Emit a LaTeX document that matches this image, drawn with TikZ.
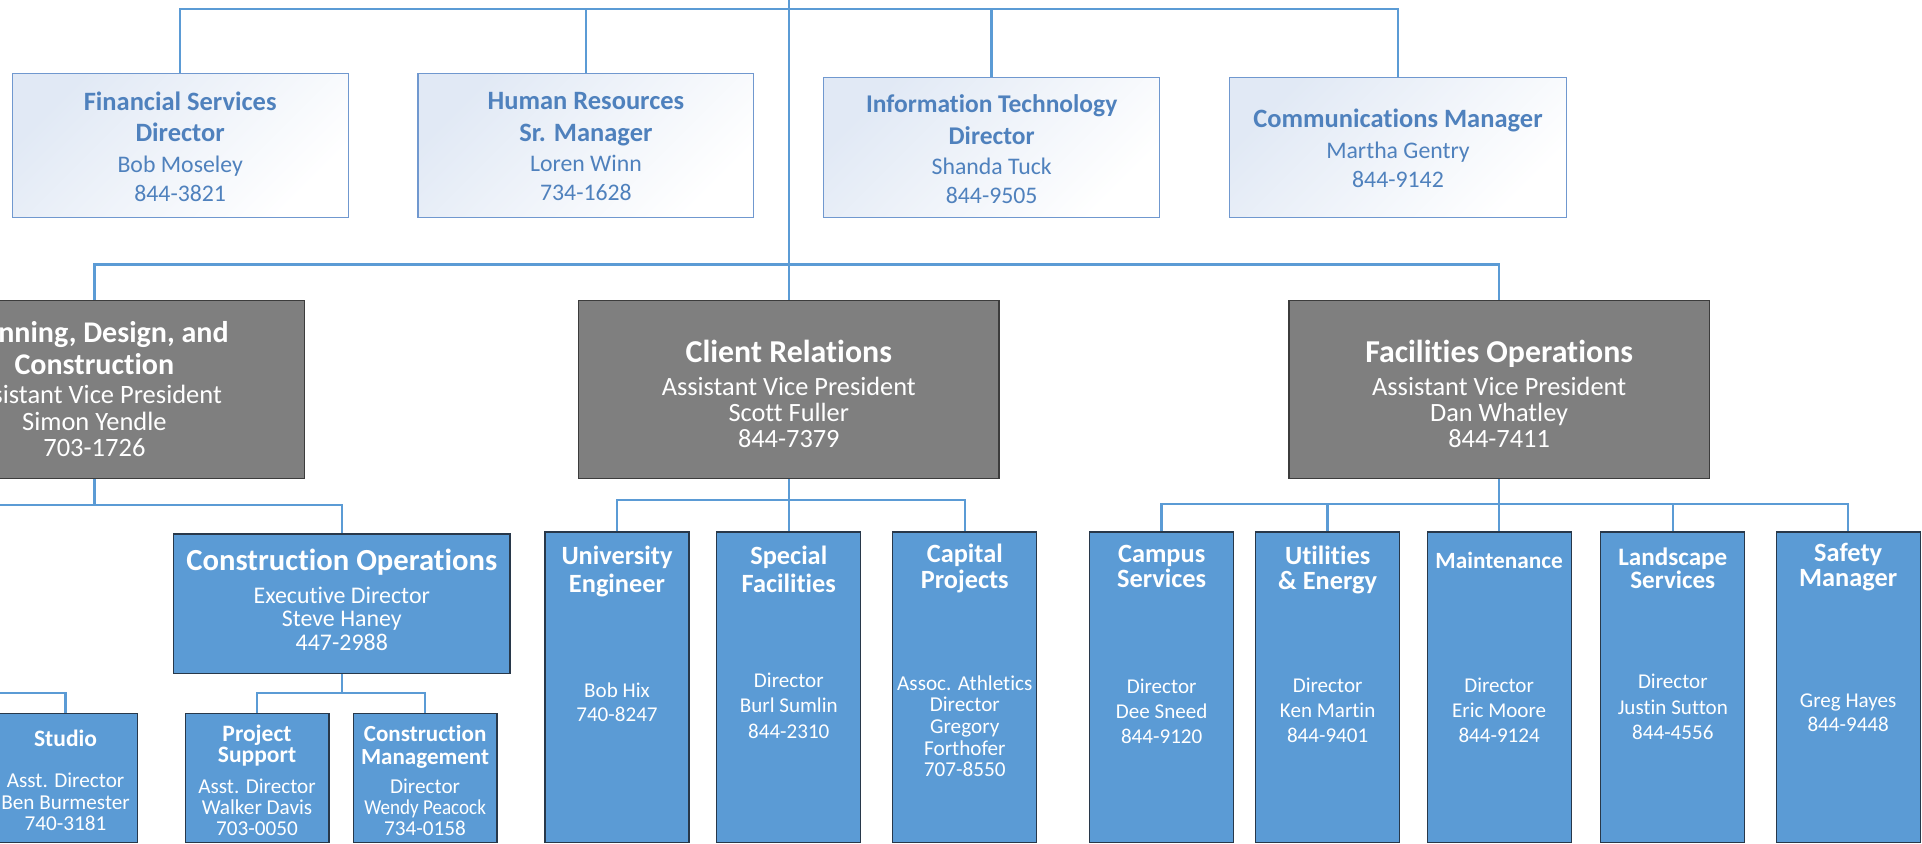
\documentclass[tikz,border=0pt]{standalone}
\usepackage{fontspec}
\usepackage{graphicx}
\setmainfont{Carlito}[RawFeature=-liga]
\definecolor{conblue}{RGB}{91,155,213}
\definecolor{topborder}{RGB}{112,152,207}
\definecolor{topfill}{RGB}{225,233,245}
\definecolor{toptext}{RGB}{79,129,189}
\definecolor{grayfill}{RGB}{127,127,127}
\definecolor{grayline}{RGB}{60,60,60}
\definecolor{bluefill}{RGB}{91,155,213}
\definecolor{blueline}{RGB}{40,56,74}
\newcommand{\hd}[2]{{\bfseries\fontsize{#1}{#1}\selectfont #2}}
\begin{document}
\begin{tikzpicture}[x=1pt,y=-1pt,
  conn/.style={draw=conblue,line width=2.1pt},
  topbox/.style={rectangle,draw=topborder,line width=0.9pt,top color=topfill,bottom color=white,shading angle=45,inner sep=0pt,minimum width=274pt},
  graybox/.style={rectangle,fill=grayfill,draw=grayline,line width=1pt,inner sep=0pt,minimum width=343pt,minimum height=145.5pt},
  bluebox/.style={rectangle,fill=bluefill,draw=blueline,line width=1pt,inner sep=0pt},
  narrow/.style={bluebox,minimum width=117.5pt,minimum height=253pt},
  smallbox/.style={bluebox,minimum width=117.3pt,minimum height=104.8pt},
  ttop/.style={text=toptext,align=center,inner sep=0pt,font=\fontsize{19.4}{23.5}\selectfont},
  twhite/.style={text=white,align=center,inner sep=0pt},
  nhead/.style={twhite,font=\bfseries\fontsize{21.5}{21.5}\selectfont},
  nbody/.style={twhite,font=\fontsize{17.2}{20.5}\selectfont},
  sbody/.style={twhite,font=\fontsize{17.3}{17.4}\selectfont}]
\useasboundingbox (0,0) rectangle (1568,688.5);
\clip (0,0) rectangle (1568,688.5);

% ---- top staff boxes
\node[topbox,minimum height=117.5pt] (fin) at (147,118.55) {};
\node[topbox,minimum height=117.5pt] (hr) at (478,118.55) {};
\node[topbox,minimum height=114.2pt] (it) at (809,120.2) {};
\node[topbox,minimum height=114.2pt,minimum width=275pt] (comm) at (1140.5,120.2) {};
\node[ttop] (fint) at (147,119.5) {\hd{21.6}{Financial Services}\\[2.3pt]\hd{21.6}{Director}\\[1.5pt]Bob Moseley\\844-3821};
\node[ttop] (hrt) at (478,119.5) {\hd{21.6}{Human Resources}\\[2.3pt]\hd{21.6}{Sr. Manager}\\[1.5pt]Loren Winn\\734-1628};
\node[ttop] (itt) at (809,121.5) {\hd{20.8}{Information Technology}\\[2.4pt]\hd{20.8}{Director}\\[1pt]Shanda Tuck\\844-9505};
\node[ttop] (commt) at (1140.5,121.2) {\hd{21.6}{Communications Manager}\\[1.6pt]Martha Gentry\\844-9142};

% ---- gray AVP boxes
\node[graybox] (plan) at (77,317.75) {};
\node[graybox] (client) at (643.5,317.75) {};
\node[graybox] (fac) at (1223,317.75) {};
\node[twhite,font=\fontsize{21.6}{21.5}\selectfont] (plant) at (77,317.3) {\hd{24.5}{Planning, Design, and}\\[4.5pt]\hd{24.5}{Construction}\\[2.5pt]Assistant Vice President\\Simon Yendle\\703-1726};
\node[twhite,font=\fontsize{21.5}{21.5}\selectfont] (clientt) at (643.5,321.5) {\hd{26}{Client Relations}\\[4.9pt]Assistant Vice President\\Scott Fuller\\844-7379};
\node[twhite,font=\fontsize{21.5}{21.5}\selectfont] (fact) at (1223,321.5) {\hd{26}{Facilities Operations}\\[4.9pt]Assistant Vice President\\Dan Whatley\\844-7411};

% ---- construction operations
\node[bluebox,minimum width=274.3pt,minimum height=114pt] (conops) at (278.85,492.6) {};
\node[twhite,font=\fontsize{19.5}{19.3}\selectfont] (conopst) at (278.85,489.4) {\hd{25}{Construction Operations}\\[7.4pt]Executive Director\\Steve Haney\\447-2988};

\node[smallbox] (studio) at (53.5,634.6) {};
\node[smallbox] (projsup) at (209.7,634.6) {};
\node[smallbox] (conmgmt) at (346.8,634.6) {};
\node[twhite,font=\bfseries\fontsize{19.2}{17}\selectfont] (studioh) at (53.5,602.6) {Studio};
\node[sbody] (studiob) at (53.5,654.2) {Asst. Director\\Ben Burmester\\740-3181};
\node[twhite,font=\bfseries\fontsize{19.2}{17}\selectfont] (projsuph) at (209.7,608) {Project\\Support};
\node[sbody] (projsupb) at (209.7,658.5) {Asst. Director\\Walker Davis\\703-0050};
\node[twhite,font=\bfseries\fontsize{18.8}{18.6}\selectfont] (conmgmth) at (346.8,609.3) {Construction\\Management};
\node[sbody] (conmgmtb) at (346.8,658.5) {Director\\\scalebox{0.9}[1]{Wendy Peacock}\\734-0158};

% ---- narrow unit boxes
\node[narrow] (univ) at (503.35,560.5) {};
\node[narrow] (special) at (643.5,560.5) {};
\node[narrow] (capital) at (787.1,560.5) {};
\node[narrow] (campus) at (947.7,560.5) {};
\node[narrow] (util) at (1083.1,560.5) {};
\node[narrow] (maint) at (1223,560.5) {};
\node[narrow] (land) at (1364.7,560.5) {};
\node[narrow] (safety) at (1507.75,560.5) {};

\node[nhead,font=\bfseries\fontsize{21.5}{22.6}\selectfont] (univh) at (503.35,466.3) {University\\Engineer};
\node[nbody,font=\fontsize{17.2}{20}\selectfont] (univb) at (503.35,573) {Bob Hix\\740-8247};
\node[nhead,font=\bfseries\fontsize{21.5}{22.5}\selectfont] (specialh) at (643.5,464.3) {Special\\Facilities};
\node[nbody,font=\fontsize{17.2}{21}\selectfont] (specialb) at (643.5,575.7) {Director\\Burl Sumlin\\844-2310};
\node[nhead,font=\bfseries\fontsize{21.5}{21}\selectfont] (capitalh) at (787.1,463.5) {Capital\\Projects};
\node[nbody,font=\fontsize{17.3}{17.7}\selectfont] (capitalb) at (787.1,592.4) {Assoc. Athletics\\Director\\Gregory\\Forthofer\\707-8550};
\node[nhead,font=\bfseries\fontsize{21.5}{20.5}\selectfont] (campush) at (947.7,462.3) {Campus\\Services};
\node[nbody] (campusb) at (947.7,580.5) {Director\\Dee Sneed\\844-9120};
\node[nhead,font=\bfseries\fontsize{21.5}{20.5}\selectfont] (utilh) at (1083.1,465.3) {Utilities\\\& Energy};
\node[nbody] (utilb) at (1083.1,579.3) {Director\\Ken Martin\\844-9401};
\node[nhead,font=\bfseries\fontsize{19}{19}\selectfont] (mainth) at (1223,457) {Maintenance};
\node[nbody] (maintb) at (1223,579.3) {Director\\Eric Moore\\844-9124};
\node[nhead,font=\bfseries\fontsize{20.5}{17.5}\selectfont] (landh) at (1364.7,463.8) {Landscape\\Services};
\node[nbody] (landb) at (1364.7,576.7) {Director\\Justin Sutton\\844-4556};
\node[nhead,font=\bfseries\fontsize{21.5}{20.3}\selectfont] (safetyh) at (1507.75,462.7) {Safety\\Manager};
\node[nbody,font=\fontsize{17.2}{19.7}\selectfont] (safetyb) at (1507.75,581.8) {Greg Hayes\\844-9448};

% ---- connectors
\coordinate (topin) at (643.5,-5);
\coordinate (tbar) at (643.5,7.5);
\coordinate (mbar) at (643.5,215.6);
\draw[conn] (topin) -- (client.north);
\draw[conn] (fin.north) |- (tbar) -| (comm.north);
\draw[conn] (hr.north) -- (hr.north |- tbar);
\draw[conn] (it.north) -- (it.north |- tbar);
\draw[conn] (plan.north) |- (mbar) -| (fac.north);

\coordinate (pbar) at (77,412);
\coordinate (offL) at (-20,412);
\draw[conn] (plan.south) -- (pbar);
\draw[conn] (offL) -| (conops.north);
\coordinate (cobar) at (278.85,565.5);
\draw[conn] (conops.south) -- (cobar);
\draw[conn] (projsup.north) |- (cobar) -| (conmgmt.north);
\coordinate (offS) at (-20,565.5);
\draw[conn] (offS) -| (studio.north);

\coordinate (cbar) at (643.5,408);
\draw[conn] (client.south) -- (special.north);
\draw[conn] (univ.north) |- (cbar) -| (capital.north);

\coordinate (fbar) at (1223,411);
\draw[conn] (fac.south) -- (maint.north);
\draw[conn] (campus.north) |- (fbar) -| (safety.north);
\draw[conn] (util.north) -- (util.north |- fbar);
\draw[conn] (land.north) -- (land.north |- fbar);
\end{tikzpicture}
\end{document}
